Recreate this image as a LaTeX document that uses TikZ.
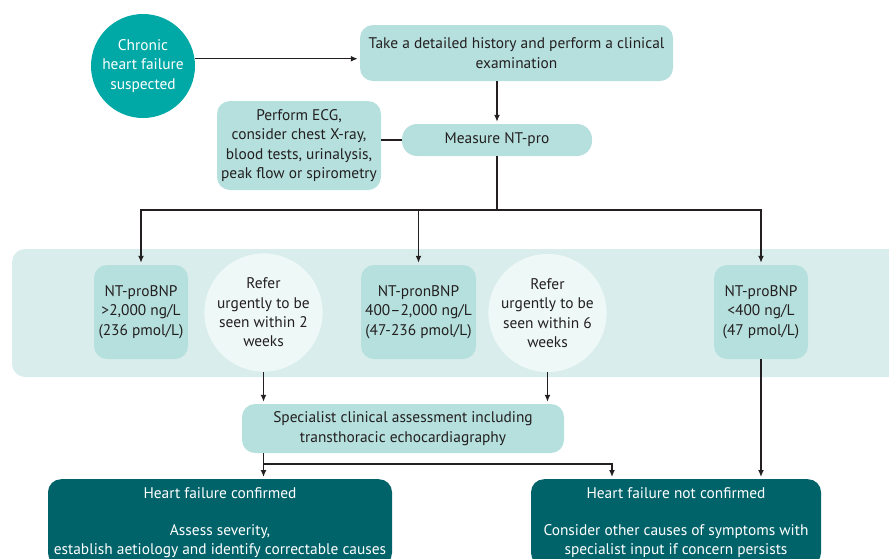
\documentclass[tikz,border=0pt]{standalone}
\usepackage{fontspec}
\setmainfont{PT Sans}
\usepackage{tikz}
\usetikzlibrary{arrows.meta}

\definecolor{startteal}{HTML}{00A8A6}
\definecolor{boxteal}{HTML}{B5E0DD}
\definecolor{bandteal}{HTML}{D9EEEC}
\definecolor{refwhite}{HTML}{EEF8F7}
\definecolor{darkteal}{HTML}{00636A}
\definecolor{inkgrey}{HTML}{231F20}

\tikzset{
  every node/.style={font=\fontsize{15.4}{19.3}\selectfont, align=center, inner sep=1pt},
  lightbox/.style={rectangle, rounded corners=13pt, fill=boxteal, text=inkgrey},
  refcirc/.style={circle, fill=refwhite, text=inkgrey, minimum size=104pt},
  startcirc/.style={circle, fill=startteal, text=white, minimum size=104pt},
  darkbox/.style={rectangle, rounded corners=13pt, fill=darkteal, text=white, anchor=north, inner ysep=8pt},
  link/.style={draw=inkgrey, line width=1.5pt},
  arr/.style={link, -{Latex[length=7pt,width=6pt]}, shorten >=2pt}
}

\begin{document}
\begin{tikzpicture}[x=1pt,y=-1pt]
    \useasboundingbox (0,0) rectangle (889,558);
    \clip (0,0) rectangle (889,558);
    % band behind the three results
    \fill[bandteal, rounded corners=13pt] (12,249) rectangle (920,377);

    % top of the chart
    \node[startcirc] (chf) at (143,66) {Chronic\\heart failure\\suspected};
    \node[lightbox, minimum width=313, minimum height=56] (hist) at (516.5,53)
        {Take a detailed history and perform a clinical\\examination};
    \node[lightbox, minimum width=190, minimum height=32, rounded corners=15pt] (meas) at (497,140)
        {Measure NT-pro};
    \node[lightbox, minimum width=164, minimum height=89] (ecg) at (299,145.5)
        {Perform ECG,\\consider chest X-ray,\\blood tests, urinalysis,\\peak flow or spirometry};

    % results
    \node[lightbox, minimum width=94, minimum height=94] (nt1) at (141,312)
        {NT-proBNP\\>2,000 ng/L\\(236 pmol/L)};
    \node[refcirc] (ref1) at (263.5,312.5) {Refer\\urgently to be\\seen within 2\\weeks};
    \node[lightbox, minimum width=115, minimum height=94] (nt2) at (418.5,312)
        {NT-pronBNP\\400--2,000 ng/L\\(47-236 pmol/L)};
    \node[refcirc] (ref2) at (547.5,313) {Refer\\urgently to be\\seen within 6\\weeks};
    \node[lightbox, minimum width=94, minimum height=94] (nt3) at (761,312)
        {NT-proBNP\\<400 ng/L\\(47 pmol/L)};

    % assessment and outcomes
    \node[lightbox, minimum width=322, minimum height=49] (spec) at (403,428.5)
        {Specialist clinical assessment including\\transthoracic echocardiagraphy};
    \node[darkbox, minimum width=344] (conf) at (220,479)
        {Heart failure confirmed\\[18pt]Assess severity,\\establish aetiology and identify correctable causes};
    \node[darkbox, minimum width=290] (notconf) at (676,479)
        {Heart failure not confirmed\\[18pt]Consider other causes of symptoms with\\specialist input if concern persists};

    % connectors
    \coordinate (split) at (497,210);
    \coordinate (ncin) at (612,464);
    \draw[arr] (chf.8) -- (chf.8 -| hist.west);
    \draw[arr] (meas.north |- hist.south) -- (meas.north);
    \draw[link] (ecg.east |- meas.west) -- (meas.west);
    \draw[link] (meas.south) -- (split);
    \foreach \res in {nt1,nt2,nt3}
        \draw[arr] (split) -| (\res.north);
    \draw[arr] (ref1.south) -- (ref1.south |- spec.north);
    \draw[arr] (ref2.south) -- (ref2.south |- spec.north);
    \draw[arr] (ref1 |- spec.south) -- (ref1 |- conf.north);
    \draw[arr] (ref1 |- spec.south) |- (ncin) -- (ncin |- notconf.north);
    \draw[arr] (nt3.south) -- (nt3.south |- notconf.north);
\end{tikzpicture}
\end{document}
